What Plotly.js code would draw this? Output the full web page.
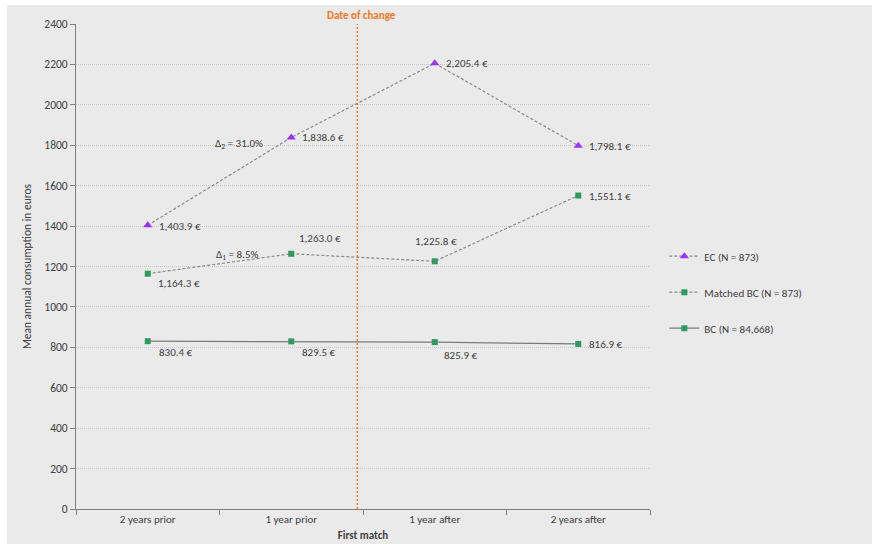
<!DOCTYPE html>
<html>
<head>
<meta charset="utf-8">
<script src="https://cdn.plot.ly/plotly-3.0.1.min.js"></script>
<style>
html,body{margin:0;padding:0;background:#ffffff;width:872px;height:544px;overflow:hidden;}
#chart{position:absolute;left:7px;top:5px;width:865px;height:539px;}
</style>
</head>
<body>
<div id="chart"></div>
<script>
const categories = ["2 years prior", "1 year prior", "1 year after", "2 years after"];
const ecValues = [1403.9, 1838.6, 2205.4, 1798.1];
const matchedBcValues = [1164.3, 1263.0, 1225.8, 1551.1];
const bcValues = [830.4, 829.5, 825.9, 816.9];
const seriesNames = ["EC (N = 873)", "Matched BC (N = 873)", "BC (N = 84,668)"];
const deltaLabels = ["Δ<sub>2</sub> = 31.0%", "Δ<sub>1</sub> = 8.5%"];
const changePosition = 1.46;
const yTicks = [0, 200, 400, 600, 800, 1000, 1200, 1400, 1600, 1800, 2000, 2200, 2400];

const FONT = "Carlito, Lato, 'Liberation Sans', sans-serif";
const TXT = "#404040";

function euro(v) {
  return v.toLocaleString("en-US", {minimumFractionDigits: 1, maximumFractionDigits: 1}) + " €";
}

const traces = [
  {
    x: categories, y: ecValues, name: seriesNames[0], type: "scatter", mode: "lines+markers",
    line: {color: "#8a8a8a", width: 1.2, dash: "3px,2px"},
    marker: {symbol: "triangle-up", size: 8, color: "#9b30ff"},
    legendgroup: "a"
  },
  {
    x: categories, y: matchedBcValues, name: seriesNames[1], type: "scatter", mode: "lines+markers",
    line: {color: "#8a8a8a", width: 1.2, dash: "3px,2px"},
    marker: {symbol: "square", size: 6, color: "#2e9a5c"},
    legendgroup: "b"
  },
  {
    x: categories, y: bcValues, name: seriesNames[2], type: "scatter", mode: "lines+markers",
    line: {color: "#7a7a7a", width: 1.3},
    marker: {symbol: "square", size: 6, color: "#2e9a5c"},
    legendgroup: "c"
  }
];

// label offsets (style only)
const ecOff = [[9,-1,"left"],[9,0,"left"],[9,0,"left"],[9,-1,"left"]];
const mbcOff = [[8,-10,"left"],[6,15,"left"],[1,20,"center"],[9,-1,"left"]];
const bcOff = [[9,-11,"left"],[9,-11,"left"],[7,-13,"left"],[9,-1,"left"]];

const annotations = [];
function addLabels(vals, offs) {
  vals.forEach((v, i) => {
    annotations.push({
      x: categories[i], y: v, xref: "x", yref: "y", text: euro(v), showarrow: false,
      xanchor: offs[i][2], yanchor: "middle", xshift: offs[i][0], yshift: offs[i][1],
      font: {family: FONT, size: 11, color: TXT}
    });
  });
}
addLabels(ecValues, ecOff);
addLabels(matchedBcValues, mbcOff);
addLabels(bcValues, bcOff);

annotations.push({
  x: 0.5, y: 1807, xref: "x", yref: "y", text: deltaLabels[0], showarrow: false,
  xanchor: "left", xshift: -7, font: {family: FONT, size: 11, color: TXT}
});
annotations.push({
  x: 0.5, y: 1259, xref: "x", yref: "y", text: deltaLabels[1], showarrow: false,
  xanchor: "left", xshift: -6, font: {family: FONT, size: 11, color: TXT}
});
annotations.push({
  x: changePosition, y: 1, xref: "x", yref: "paper", text: "<b>Date of change</b>", showarrow: false,
  xanchor: "center", yanchor: "bottom", xshift: 4, yshift: 0,
  font: {family: FONT, size: 11, color: "#f07820"}
});

const layout = {
  width: 865, height: 539,
  margin: {l: 68.5, r: 222, t: 18.5, b: 35},
  paper_bgcolor: "#eaeaea",
  plot_bgcolor: "#eaeaea",
  font: {family: FONT, size: 10, color: TXT},
  showlegend: true,
  legend: {
    x: 1.025, y: 0.447, xanchor: "left", yanchor: "middle",
    bgcolor: "rgba(0,0,0,0)", font: {family: FONT, size: 11, color: TXT},
    tracegroupgap: 17, itemwidth: 30
  },
  xaxis: {
    type: "category", range: [-0.5, 3.5],
    showline: true, linecolor: "#7f7f7f", linewidth: 1,
    ticks: "outside", tickson: "boundaries", ticklen: 5, tickcolor: "#7f7f7f",
    showgrid: false, zeroline: false,
    tickfont: {family: FONT, size: 11, color: TXT},
    title: {text: "<b>First match</b>", font: {family: FONT, size: 11, color: TXT}, standoff: 6}
  },
  yaxis: {
    range: [0, 2400], tickvals: yTicks,
    showline: true, linecolor: "#7f7f7f", linewidth: 1,
    ticks: "outside", ticklen: 5, tickcolor: "#7f7f7f",
    showgrid: true, gridcolor: "#c6c6c6", griddash: "1px,1px", gridwidth: 1,
    zeroline: false,
    tickfont: {family: FONT, size: 11.5, color: TXT},
    title: {text: "Mean annual consumption in euros", font: {family: FONT, size: 11.5, color: TXT}, standoff: 10}
  },
  shapes: [
    {type: "line", xref: "x", yref: "paper", x0: changePosition, x1: changePosition, y0: 0, y1: 1,
     line: {color: "#f07820", width: 1.5, dash: "2px,2px"}}
  ],
  annotations: annotations
};

Plotly.newPlot("chart", traces, layout, {displayModeBar: false, staticPlot: true});
</script>
</body>
</html>
